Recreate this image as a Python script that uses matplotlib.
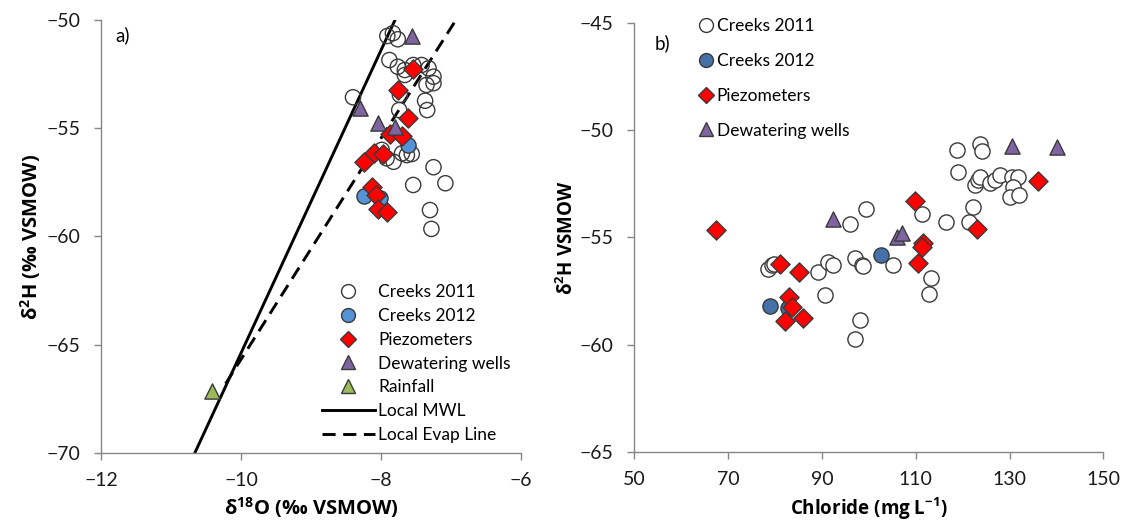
import matplotlib
matplotlib.use("Agg")
import matplotlib.pyplot as plt
from matplotlib.lines import Line2D

plt.rcParams['font.family'] = ['Lato', 'DejaVu Sans']
plt.rcParams['mathtext.fontset'] = 'custom'
plt.rcParams['mathtext.rm'] = 'Open Sans'
plt.rcParams['mathtext.bf'] = 'Open Sans:bold'
plt.rcParams['mathtext.default'] = 'regular'

# ---------------- Panel a data: d18O vs d2H ----------------
a_c11_x = [-7.91, -7.83, -7.76, -7.88, -7.76, -7.66, -7.54, -7.42, -7.32, -7.66, -7.25, -7.35,
           -7.25, -8.40, -7.73, -7.37, -7.34, -7.74, -7.99, -7.92, -7.82, -7.70, -7.63, -7.56,
           -7.25, -7.54, -7.08, -7.30, -7.28]
a_c11_y = [-50.74, -50.61, -50.89, -51.85, -52.16, -52.31, -52.08, -52.08, -52.23, -52.54, -52.62, -53.00,
           -52.92, -53.57, -53.46, -53.73, -54.16, -54.16, -56.00, -56.39, -56.55, -56.16, -56.24, -56.19,
           -56.80, -57.62, -57.54, -58.78, -59.65]
a_c12_x = [-7.61, -8.25, -8.01]
a_c12_y = [-55.77, -58.12, -58.24]
a_piez_x = [-7.54, -7.75, -7.61, -7.87, -7.70, -8.10, -7.97, -8.25, -8.13, -8.07, -8.04, -7.91]
a_piez_y = [-52.28, -53.23, -54.54, -55.27, -55.36, -56.13, -56.19, -56.54, -57.70, -58.08, -58.74, -58.85]
a_dew_x = [-7.56, -8.30, -8.04, -7.80]
a_dew_y = [-50.74, -54.08, -54.74, -54.96]
a_rain_x = [-10.42]
a_rain_y = [-67.12]
mwl_x = [-10.66, -7.80]
mwl_y = [-70.0, -50.0]
evap_x = [-10.22, -6.93]
evap_y = [-66.80, -50.0]

# ---------------- Panel b data: chloride vs d2H ----------------
b_c11_x = [118.9, 123.7, 124.1, 119.1, 122.6, 123.3, 123.7, 125.8, 126.9, 128.0, 130.5, 131.9,
           130.8, 130.1, 132.1, 122.3, 121.4, 116.5, 111.3, 99.4, 96.0, 78.5, 79.3, 79.8,
           89.2, 91.3, 92.3, 97.0, 98.5, 98.7, 105.2, 113.3, 112.9, 90.6, 98.0, 97.0]
b_c11_y = [-50.93, -50.66, -50.96, -51.94, -52.56, -52.33, -52.17, -52.48, -52.33, -52.09, -52.17, -52.17,
           -52.64, -53.11, -53.03, -53.57, -54.29, -54.30, -53.91, -53.69, -54.39, -56.49, -56.29, -56.25,
           -56.61, -56.14, -56.29, -55.98, -56.29, -56.34, -56.29, -56.91, -57.66, -57.69, -58.86, -59.75]
b_c12_x = [102.5, 78.8, 82.8]
b_c12_y = [-55.83, -58.21, -58.31]
b_piez_x = [67.4, 109.8, 136.0, 123.1, 111.6, 111.3, 110.5, 81.0, 85.1, 83.0, 83.7, 82.1, 86.0]
b_piez_y = [-54.66, -53.31, -52.36, -54.60, -55.28, -55.47, -56.19, -56.25, -56.63, -57.77, -58.24, -58.89, -58.78]
b_dew_x = [130.5, 140.1, 92.4, 105.9, 107.0]
b_dew_y = [-50.74, -50.77, -54.16, -54.97, -54.81]

a_xticks = [-12, -10, -8, -6]
a_yticks = [-70, -65, -60, -55, -50]
b_xticks = [50, 70, 90, 110, 130, 150]
b_yticks = [-65, -60, -55, -50, -45]

EDGE = '#3a3a3a'
BLUE_A = '#5592d6'
BLUE_B = '#4472a8'
RED = '#ff0000'
PURPLE = '#8064a2'
GREEN = '#9bbb59'
AXC = '#868686'
S_CIRC = 120
S_DIA = 95
S_TRI = 120
LABEL_FONT = dict(family=['Open Sans', 'DejaVu Sans'], fontsize=13.5, fontweight='bold')
DLABEL_FONT = dict(family=['Open Sans', 'DejaVu Sans'], fontsize=14.5, fontweight='bold')
DASH = (0, (4.5, 2.6))

fig = plt.figure(figsize=(11.25, 5.30), dpi=100)
axa = fig.add_axes([0.0898, 0.1453, 0.3733, 0.8170])
axb = fig.add_axes([0.5640, 0.1477, 0.4167, 0.8089])


def style(ax):
    for s in ['top', 'right']:
        ax.spines[s].set_visible(False)
    for s in ['left', 'bottom']:
        ax.spines[s].set_color(AXC)
        ax.spines[s].set_linewidth(1.0)
    ax.tick_params(axis='both', direction='out', length=5, width=1.0, color=AXC,
                   labelsize=14, labelcolor='#1a1a1a')
    ax.tick_params(axis='x', pad=9)
    ax.tick_params(axis='y', pad=10)


# Panel a
axa.plot(mwl_x, mwl_y, color='black', lw=2.1, zorder=2)
axa.plot(evap_x, evap_y, color='black', lw=2.1, ls=DASH, zorder=2)
axa.scatter(a_c11_x, a_c11_y, s=S_CIRC, marker='o', facecolor='none', edgecolor=EDGE, lw=1.0, zorder=3)
axa.scatter(a_c12_x, a_c12_y, s=S_CIRC, marker='o', facecolor=BLUE_A, edgecolor=EDGE, lw=1.0, zorder=3)
axa.scatter(a_piez_x, a_piez_y, s=S_DIA, marker='D', facecolor=RED, edgecolor=EDGE, lw=1.0, zorder=4)
axa.scatter(a_dew_x, a_dew_y, s=S_TRI, marker='^', facecolor=PURPLE, edgecolor=EDGE, lw=1.0, zorder=4)
axa.scatter(a_rain_x, a_rain_y, s=S_TRI, marker='^', facecolor=GREEN, edgecolor=EDGE, lw=1.0, zorder=4)
axa.set_xlim(-12, -6)
axa.set_ylim(-70, -50)
axa.set_xticks(a_xticks)
axa.set_yticks(a_yticks)
style(axa)
axa.set_xlabel(r'δ$\mathbf{^{18}}$O (‰ VSMOW)', labelpad=4, **DLABEL_FONT)
axa.set_ylabel(r'δ$\mathbf{^{2}}$H (‰ VSMOW)', labelpad=2, **DLABEL_FONT)
axa.text(0.033, 0.965, 'a)', transform=axa.transAxes, fontsize=13.5, va='center', ha='left')

ms = 10
handles_a = [
    Line2D([], [], ls='none', marker='o', ms=ms, mfc='white', mec=EDGE, mew=1.0),
    Line2D([], [], ls='none', marker='o', ms=ms, mfc=BLUE_A, mec=EDGE, mew=1.0),
    Line2D([], [], ls='none', marker='D', ms=ms * 0.85, mfc=RED, mec=EDGE, mew=1.0),
    Line2D([], [], ls='none', marker='^', ms=ms, mfc=PURPLE, mec=EDGE, mew=1.0),
    Line2D([], [], ls='none', marker='^', ms=ms, mfc=GREEN, mec=EDGE, mew=1.0),
    Line2D([], [], color='black', lw=2.1),
    Line2D([], [], color='black', lw=2.1, ls=DASH),
]
labels_a = ['Creeks 2011', 'Creeks 2012', 'Piezometers', 'Dewatering wells', 'Rainfall',
            'Local MWL', 'Local Evap Line']
axa.legend(handles_a, labels_a, loc='upper left', bbox_to_anchor=(0.525, 0.39), frameon=False,
           fontsize=12.5, handlelength=3.1, handletextpad=0.15, labelspacing=0.45, borderpad=0,
           borderaxespad=0)

# Panel b
axb.scatter(b_c11_x, b_c11_y, s=S_CIRC, marker='o', facecolor='white', edgecolor=EDGE, lw=1.0, zorder=3)
axb.scatter(b_c12_x, b_c12_y, s=S_CIRC, marker='o', facecolor=BLUE_B, edgecolor=EDGE, lw=1.0, zorder=3)
axb.scatter(b_piez_x, b_piez_y, s=S_DIA, marker='D', facecolor=RED, edgecolor=EDGE, lw=1.0, zorder=4)
axb.scatter(b_dew_x, b_dew_y, s=S_TRI, marker='^', facecolor=PURPLE, edgecolor=EDGE, lw=1.0, zorder=4)
axb.set_xlim(50, 150)
axb.set_ylim(-65, -45)
axb.set_xticks(b_xticks)
axb.set_yticks(b_yticks)
style(axb)
axb.set_xlabel(r'Chloride (mg L$\mathbf{^{-1}}$)', labelpad=5, **LABEL_FONT)
axb.set_ylabel(r'δ$\mathbf{^{2}}$H VSMOW', labelpad=1, **LABEL_FONT)
axb.text(0.042, 0.953, 'b)', transform=axb.transAxes, fontsize=13.5, va='center', ha='left')

handles_b = [
    Line2D([], [], ls='none', marker='o', ms=ms, mfc='white', mec=EDGE, mew=1.0),
    Line2D([], [], ls='none', marker='o', ms=ms, mfc=BLUE_B, mec=EDGE, mew=1.0),
    Line2D([], [], ls='none', marker='D', ms=ms * 0.8, mfc=RED, mec=EDGE, mew=1.0),
    Line2D([], [], ls='none', marker='^', ms=ms, mfc=PURPLE, mec=EDGE, mew=1.0),
]
labels_b = ['Creeks 2011', 'Creeks 2012', 'Piezometers', 'Dewatering wells']
axb.legend(handles_b, labels_b, loc='upper left', bbox_to_anchor=(0.138, 1.011), frameon=False,
           fontsize=12.5, handlelength=0.8, handletextpad=0.2, labelspacing=1.08, borderpad=0,
           borderaxespad=0)

fig.savefig('out.png', dpi=100)
